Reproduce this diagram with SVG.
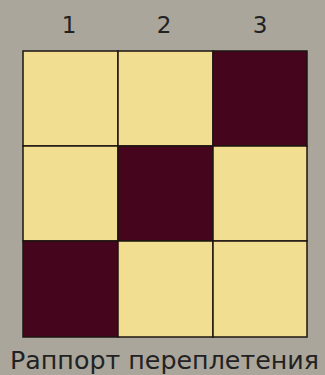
<svg xmlns="http://www.w3.org/2000/svg" width="325" height="375" viewBox="0 0 325 375">
<style>
.l{fill:#f2de91}
.d{fill:#45051c}
.c rect{stroke:#1e1410;stroke-width:1.5}
text{font-family:"DejaVu Sans","Noto Sans",sans-serif;fill:#222;}
.n{font-size:23px;text-anchor:middle}
</style>
<rect width="325" height="375" fill="#aaa69c"/>
<g id="labels">
<text class="n" x="69" y="33">1</text>
<text class="n" x="164" y="33">2</text>
<text class="n" x="260" y="33">3</text>
</g>
<g id="grid" class="c">
<rect id="c11" class="l" x="23" y="51" width="95" height="95"/>
<rect id="c12" class="l" x="118" y="51" width="95" height="95"/>
<rect id="c13" class="d" x="213" y="51" width="94" height="95"/>
<rect id="c21" class="l" x="23" y="146" width="95" height="95"/>
<rect id="c22" class="d" x="118" y="146" width="95" height="95"/>
<rect id="c23" class="l" x="213" y="146" width="94" height="95"/>
<rect id="c31" class="d" x="23" y="241" width="95" height="96"/>
<rect id="c32" class="l" x="118" y="241" width="95" height="96"/>
<rect id="c33" class="l" x="213" y="241" width="94" height="96"/>
</g>
<text id="caption" x="10" y="369" font-size="25" textLength="309" lengthAdjust="spacingAndGlyphs">Раппорт переплетения</text>
</svg>
